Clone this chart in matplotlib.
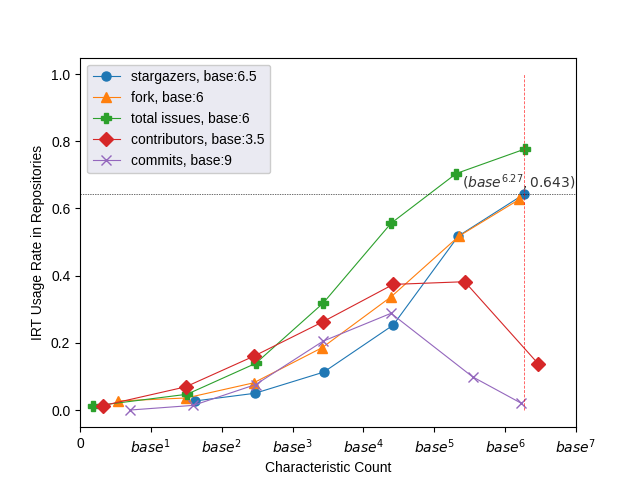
import matplotlib
matplotlib.use("Agg")
import matplotlib.pyplot as plt

plt.rcParams['font.family'] = ['Liberation Sans', 'DejaVu Sans']

# x values are log_base(count) of each characteristic
star_x = [1.62, 2.47, 3.44, 4.42, 5.34, 6.27]
star_y = [0.027, 0.050, 0.113, 0.253, 0.518, 0.643]

fork_x = [0.53, 1.50, 2.45, 3.42, 4.39, 5.35, 6.20]
fork_y = [0.027, 0.036, 0.081, 0.186, 0.337, 0.518, 0.627]

issues_x = [0.19, 1.51, 2.48, 3.43, 4.39, 5.31, 6.28]
issues_y = [0.012, 0.047, 0.139, 0.318, 0.556, 0.704, 0.777]

contrib_x = [0.32, 1.49, 2.46, 3.43, 4.42, 5.43, 6.47]
contrib_y = [0.013, 0.069, 0.161, 0.263, 0.374, 0.382, 0.137]

commits_x = [0.70, 1.60, 2.48, 3.43, 4.39, 5.54, 6.23]
commits_y = [0.000, 0.014, 0.076, 0.205, 0.288, 0.099, 0.020]

best_x = 6.27
best_y = 0.643

fig, ax = plt.subplots(figsize=(6.4, 4.8), dpi=100)

ax.plot(star_x, star_y, marker='o', color='tab:blue', lw=0.8, ms=6.5, label='stargazers, base:6.5')
ax.plot(fork_x, fork_y, marker='^', color='tab:orange', lw=0.8, ms=6.5, label='fork, base:6')
ax.plot(issues_x, issues_y, marker='P', color='tab:green', lw=0.8, ms=6.5, label='total issues, base:6')
ax.plot(contrib_x, contrib_y, marker='D', color='tab:red', lw=0.8, ms=7.5, label='contributors, base:3.5')
ax.plot(commits_x, commits_y, marker='x', color='tab:purple', lw=0.8, ms=6.5, label='commits, base:9')

ax.axhline(best_y, color='black', ls=(0, (2, 1.5)), lw=0.5, alpha=0.8)
ax.vlines(best_x, 0, 1.0, color='red', linestyles=[(0, (3, 1.5))], lw=0.7, alpha=0.6)
ax.text(5.39, 0.662, r'$(base^{6.27}, 0.643)$', fontsize=10, color='#333333')

ax.set_xlim(0, 7)
ax.set_xticks(range(8))
ax.set_xticklabels(['0'] + [r'$base^{%d}$' % i for i in range(1, 8)])
ax.set_ylim(-0.051, 1.049)
ax.set_xlabel('Characteristic Count')
ax.set_ylabel('IRT Usage Rate in Repositories')
ax.legend(loc='upper left', facecolor='#eaeaf2', edgecolor='#cccccc', framealpha=1)

fig.savefig('out.png')
